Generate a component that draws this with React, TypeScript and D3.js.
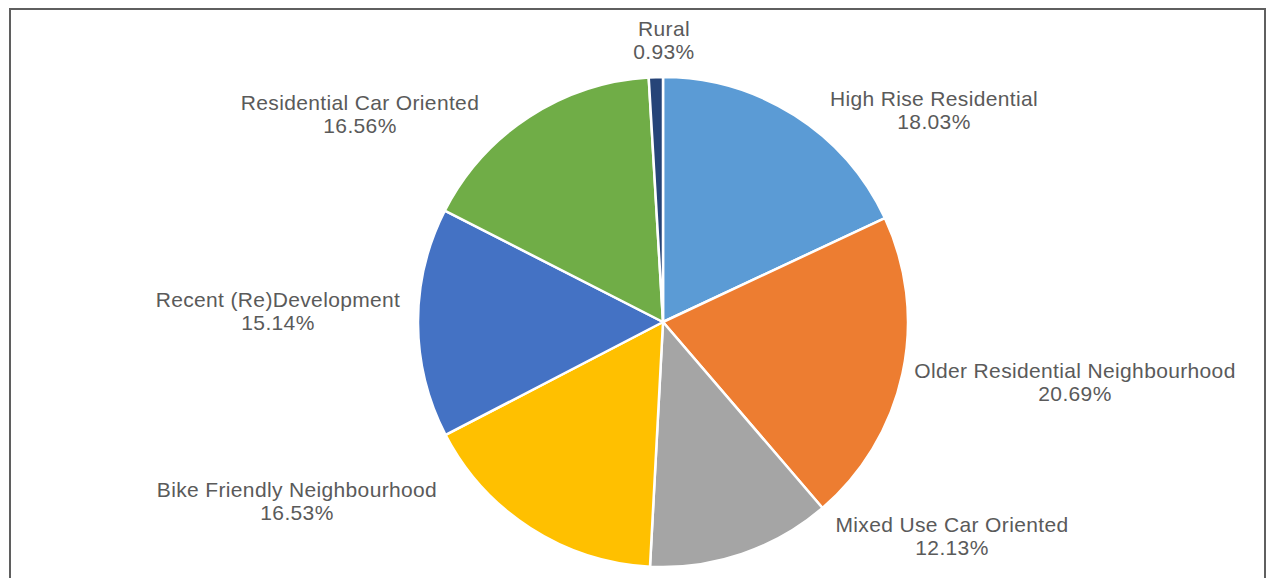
import React from "react";
import * as d3 from "d3";

const categories = [
  "High Rise Residential",
  "Older Residential Neighbourhood",
  "Mixed Use Car Oriented",
  "Bike Friendly Neighbourhood",
  "Recent (Re)Development",
  "Residential Car Oriented",
  "Rural",
];
const shares = [18.03, 20.69, 12.13, 16.53, 15.14, 16.56, 0.93];
const colors = ["#5B9BD5", "#ED7D31", "#A5A5A5", "#FFC000", "#4472C4", "#70AD47", "#264478"];

// label layout (centre of two-line label block) in pixels
const labelPos: [number, number][] = [
  [934, 110],
  [1075, 382],
  [952, 536],
  [297, 501],
  [278, 311],
  [360, 114],
  [664, 40],
];

const W = 1273;
const H = 578;
const cx = 663;
const cy = 322;
const R = 245;

export default function App() {
  const pie = d3
    .pie<number>()
    .sort(null)
    .value((d) => d)
    .startAngle(0)
    .endAngle(2 * Math.PI);
  const arcs = pie(shares);
  const arc = d3.arc<d3.PieArcDatum<number>>().innerRadius(0).outerRadius(R);
  const fmt = (v: number) => d3.format(".2f")(v) + "%";
  const lineGap = 23;
  return (
    <svg
      width={W}
      height={H}
      style={{ position: "absolute", left: 0, top: 0, background: "#fff" }}
      fontFamily="'Liberation Sans', Arial, sans-serif"
    >
      <rect x={0} y={0} width={W} height={H} fill="#fff" />
      <rect x={10} y={9} width={1255} height={600} fill="#fff" stroke="#5f5f5f" strokeWidth={2} />
      <g transform={`translate(${cx},${cy})`}>
        {arcs.map((a, i) => (
          <path key={i} d={arc(a) || ""} fill={colors[i]} stroke="#fff" strokeWidth={2.5} strokeLinejoin="round" />
        ))}
      </g>
      {categories.map((c, i) => (
        <text
          key={c}
          x={labelPos[i][0]}
          y={labelPos[i][1]}
          textAnchor="middle"
          fontSize={21}
          letterSpacing={0.35}
          fill="#5a5a5a"
        >
          <tspan x={labelPos[i][0]} dy={-lineGap / 2 + 7}>{c}</tspan>
          <tspan x={labelPos[i][0]} dy={lineGap}>{fmt(shares[i])}</tspan>
        </text>
      ))}
    </svg>
  );
}
